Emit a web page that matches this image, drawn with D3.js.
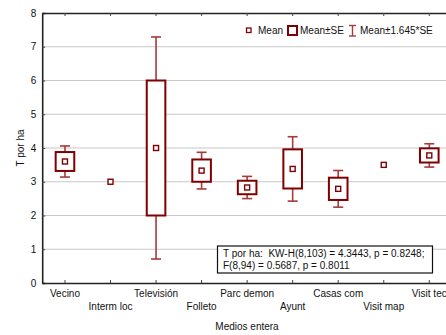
<!DOCTYPE html>
<html>
<head>
<meta charset="utf-8">
<script src="https://cdn.jsdelivr.net/npm/d3@7"></script>
<style>
  html, body { margin: 0; padding: 0; background: #fff; }
  svg { display: block; font-family: "Liberation Sans", Arial, sans-serif; }
</style>
</head>
<body>
<svg id="chart" width="446" height="335"></svg>
<script>
// Categories (communication channels) and group statistics of T por ha
const categories = ["Vecino", "Interm loc", "Televisión", "Folleto", "Parc demon",
                    "Ayunt", "Casas com", "Visit map", "Visit tec"];
const means = [3.6, 3.0, 4.0, 3.33, 2.83, 3.38, 2.79, 3.5, 3.78];
const stdErrors = [0.28, 0, 2.0, 0.33, 0.2, 0.58, 0.33, 0, 0.21];
const yTicks = [0, 1, 2, 3, 4, 5, 6, 7, 8];
const legendLabels = ["Mean", "Mean±SE", "Mean±1.645*SE"];
const statLines = ["T por ha:  KW-H(8,103) = 4.3443, p = 0.8248;",
                   "F(8,94) = 0.5687, p = 0.8011"];

const svg = d3.select("#chart");
const font = "Liberation Sans, Arial, sans-serif";
const fs = 10;
const dark = "#800000";
const whiskerCol = "#a63a3c";
const plotLeft = 42.2, plotTop = 13, plotBottom = 283;
const plotRight = plotLeft + 9 * 45.54;

const x = d3.scaleBand().domain(categories).range([plotLeft, plotRight]).padding(0);
const y = d3.scaleLinear().domain([0, 8]).range([plotBottom, plotTop]);
const cx = c => x(c) + x.bandwidth() / 2;

// Horizontal grid lines
svg.append("g").selectAll("line")
  .data(yTicks.filter(t => t > 0 && t < 8))
  .join("line")
  .attr("x1", plotLeft).attr("x2", 446)
  .attr("y1", d => y(d)).attr("y2", d => y(d))
  .attr("stroke", "#c8c8c8").attr("stroke-width", 1.2);

// Axes
const yAxis = d3.axisLeft(y).tickValues(yTicks).tickSize(-3).tickPadding(6).tickFormat(d3.format("d"));
const gy = svg.append("g").attr("transform", `translate(${plotLeft},0)`).call(yAxis);
gy.select(".domain").attr("stroke", "#222").attr("stroke-width", 1.6);
gy.selectAll(".tick line").attr("stroke", "#444");
gy.selectAll("text").attr("font-size", fs).attr("fill", "#111").attr("font-family", font);

const xAxis = d3.axisBottom(x).tickSize(-3).tickSizeOuter(0).tickPadding(8);
const gx = svg.append("g").attr("transform", `translate(0,${plotBottom})`).call(xAxis);
gx.select(".domain").attr("stroke", "#222").attr("stroke-width", 1.6);
gx.selectAll(".tick line").attr("stroke", "#444");
gx.selectAll("text")
  .attr("font-size", fs).attr("fill", "#111").attr("font-family", font)
  .attr("y", (d, i) => i % 2 === 0 ? 7 : 19.5);

const xTop = d3.axisTop(x).tickSize(-3).tickSizeOuter(0).tickFormat("");
const gt = svg.append("g").attr("transform", `translate(0,${plotTop})`).call(xTop);
gt.select(".domain").attr("stroke", "#222").attr("stroke-width", 1.4);
gt.selectAll(".tick line").attr("stroke", "#444");

// Axis titles
svg.append("text").attr("x", 247).attr("y", 329.5).attr("text-anchor", "middle")
  .attr("font-size", fs).attr("fill", "#111").text("Medios entera");
svg.append("text").attr("transform", `translate(23.5,148) rotate(-90)`)
  .attr("text-anchor", "middle").attr("font-size", fs).attr("fill", "#111").text("T por ha");

// Whiskers: mean ± 1.645*SE
const rows = categories.map((c, i) => ({ c, m: means[i], se: stdErrors[i] }));
const withSE = rows.filter(d => d.se > 0);
const capHalf = 5;
const wg = svg.append("g").attr("stroke", whiskerCol).attr("stroke-width", 1.6);
withSE.forEach(d => {
  const hi = d.m + 1.645 * d.se, lo = d.m - 1.645 * d.se;
  wg.append("line").attr("x1", cx(d.c)).attr("x2", cx(d.c))
    .attr("y1", y(hi)).attr("y2", y(d.m + d.se));
  wg.append("line").attr("x1", cx(d.c)).attr("x2", cx(d.c))
    .attr("y1", y(d.m - d.se)).attr("y2", y(lo));
  wg.append("line").attr("x1", cx(d.c) - capHalf).attr("x2", cx(d.c) + capHalf)
    .attr("y1", y(hi)).attr("y2", y(hi));
  wg.append("line").attr("x1", cx(d.c) - capHalf).attr("x2", cx(d.c) + capHalf)
    .attr("y1", y(lo)).attr("y2", y(lo));
});

// Boxes: mean ± SE
const boxHalf = 9.3;
svg.append("g").selectAll("rect").data(withSE).join("rect")
  .attr("x", d => cx(d.c) - boxHalf).attr("width", boxHalf * 2)
  .attr("y", d => y(d.m + d.se)).attr("height", d => y(d.m - d.se) - y(d.m + d.se))
  .attr("fill", "#fff").attr("stroke", dark).attr("stroke-width", 2);

// Mean markers
svg.append("g").selectAll("rect").data(rows).join("rect")
  .attr("x", d => cx(d.c) - 2.5).attr("y", d => y(d.m) - 2.5)
  .attr("width", 5).attr("height", 5)
  .attr("fill", "#fff").attr("stroke", dark).attr("stroke-width", 1.4);

// Legend
const lg = svg.append("g").attr("font-size", fs).attr("fill", "#111");
lg.append("rect").attr("x", 246.5).attr("y", 28).attr("width", 4.5).attr("height", 4.5)
  .attr("fill", "#fff").attr("stroke", dark).attr("stroke-width", 1.3);
lg.append("text").attr("x", 258).attr("y", 34).text(legendLabels[0]);
lg.append("rect").attr("x", 288).attr("y", 26).attr("width", 9).attr("height", 9)
  .attr("fill", "#fff").attr("stroke", dark).attr("stroke-width", 2);
lg.append("text").attr("x", 300).attr("y", 34).text(legendLabels[1]);
const wl = lg.append("g").attr("stroke", whiskerCol).attr("stroke-width", 1.4);
wl.append("line").attr("x1", 352.5).attr("x2", 352.5).attr("y1", 25.5).attr("y2", 36);
wl.append("line").attr("x1", 349).attr("x2", 356).attr("y1", 25.5).attr("y2", 25.5);
wl.append("line").attr("x1", 349).attr("x2", 356).attr("y1", 36).attr("y2", 36);
lg.append("text").attr("x", 360).attr("y", 34).text(legendLabels[2]);

// Test statistics box
const sb = svg.append("g");
sb.append("rect").attr("x", 217.5).attr("y", 246).attr("width", 215).attr("height", 27)
  .attr("fill", "#fff").attr("stroke", "#111").attr("stroke-width", 1.2);
sb.selectAll("text").data(statLines).join("text")
  .attr("x", 223).attr("y", (d, i) => 256.5 + i * 12.5)
  .attr("font-size", fs).attr("fill", "#111")
  .attr("xml:space", "preserve").style("white-space", "pre")
  .text(d => d);
</script>
</body>
</html>
